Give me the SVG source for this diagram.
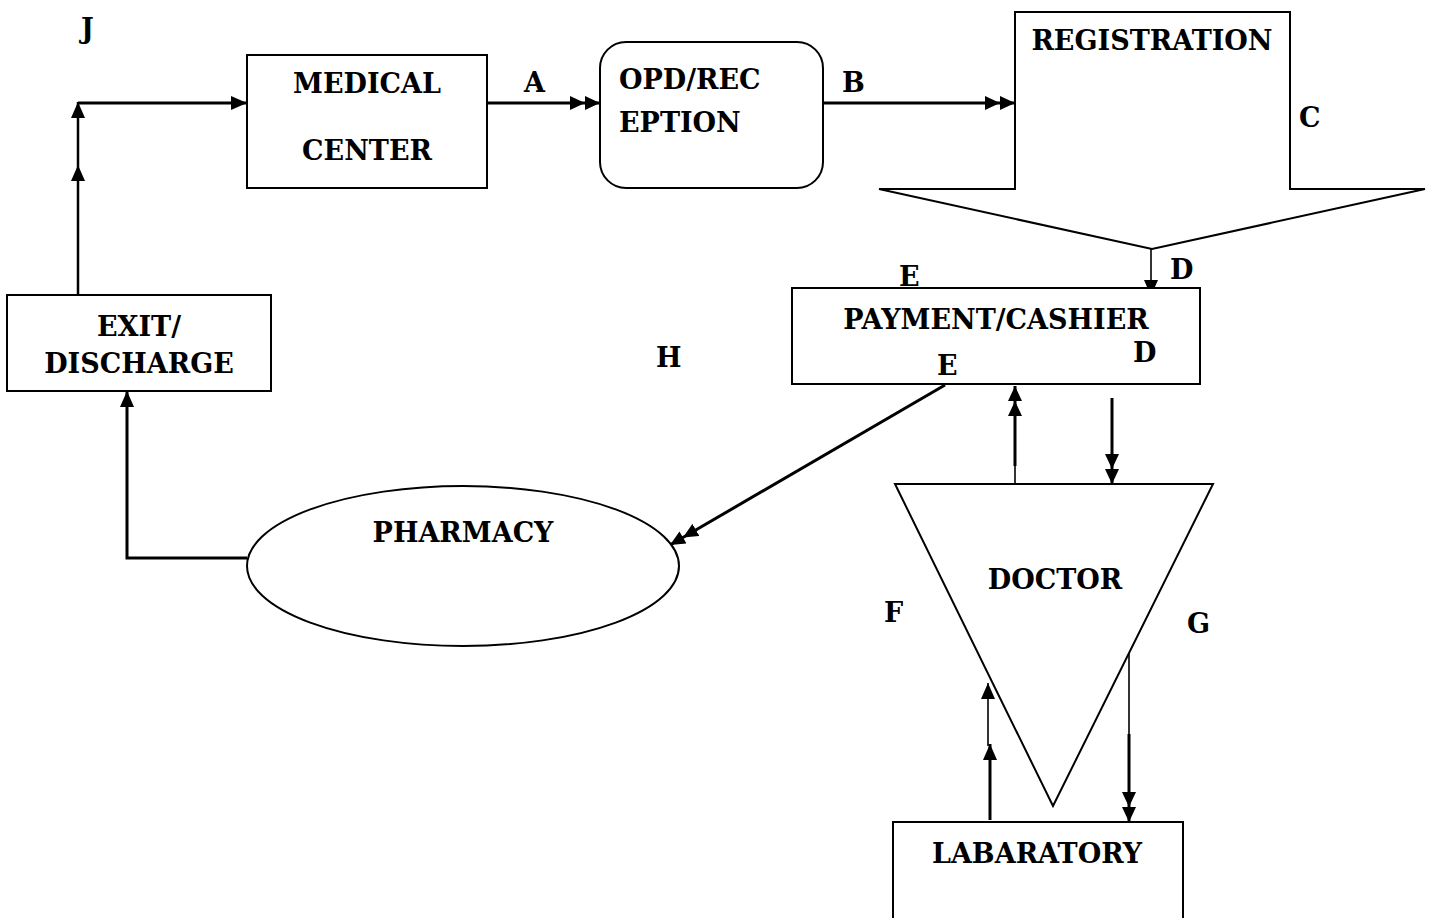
<svg xmlns="http://www.w3.org/2000/svg" width="1430" height="918" viewBox="0 0 1430 918">
<style>
.t{font-family:"DejaVu Serif","Liberation Serif",serif;font-weight:bold;font-size:27px;fill:#000}
.m{text-anchor:middle}
.s{fill:#fff;stroke:#000;stroke-width:2}
.c{fill:none;stroke:#000;stroke-width:3}
.th{fill:none;stroke:#000;stroke-width:1.6}
</style>
<defs>
<marker id="ah" viewBox="0 0 16 14" markerWidth="16" markerHeight="14" refX="16" refY="7" orient="auto" markerUnits="userSpaceOnUse"><path d="M0,0 L16,7 L0,14 z" fill="#000"/></marker>
<marker id="ad" viewBox="0 0 30 14" markerWidth="30" markerHeight="14" refX="30" refY="7" orient="auto" markerUnits="userSpaceOnUse"><path d="M0,0 L15,7 L0,14 z M15,0 L30,7 L15,14 z" fill="#000"/></marker>
</defs>
<rect width="1430" height="918" fill="#fff"/>
<g id="connectors">
<path class="c" d="M78,295 V165" marker-end="url(#ah)" style="stroke-width:2.5"/>
<path class="c" d="M78,165 V102" marker-end="url(#ah)" style="stroke-width:2.5"/>
<path class="c" d="M78,103 H247" marker-end="url(#ah)"/>
<path class="c" d="M487,103 H600" marker-end="url(#ad)"/>
<path class="c" d="M823,103 H1015" marker-end="url(#ad)"/>
<path class="th" d="M1151,249 V296" marker-end="url(#ah)"/>
<path class="c" d="M945,385 L670,545" marker-end="url(#ad)"/>
<path class="th" d="M1015,484 V465"/>
<path class="c" d="M1015,466 V386" marker-end="url(#ad)"/>
<path class="c" d="M1112,398 V484" marker-end="url(#ad)"/>
<path class="c" d="M990,820 V744" marker-end="url(#ah)"/>
<path class="th" d="M988,746 V683" marker-end="url(#ah)"/>
<path class="th" d="M1129,645 V736"/>
<path class="c" d="M1129,734 V822" marker-end="url(#ad)"/>
<path class="c" d="M247,558 H127 V391" marker-end="url(#ah)"/>
</g>
<g id="medical-center">
<rect class="s" x="247" y="55" width="240" height="133"/>
<text class="t m" x="367" y="93">MEDICAL</text>
<text class="t m" x="367" y="160">CENTER</text>
</g>
<g id="opd-reception">
<rect class="s" x="600" y="42" width="223" height="146" rx="26"/>
<text class="t" x="619" y="89">OPD/REC</text>
<text class="t" x="619" y="132">EPTION</text>
</g>
<g id="registration">
<path class="s" d="M1015,12 H1290 V189 H1425 L1152,249 L879,189 H1015 Z"/>
<text class="t m" x="1152" y="50">REGISTRATION</text>
</g>
<g id="payment-cashier">
<rect class="s" x="792" y="288" width="408" height="96"/>
<text class="t m" x="996" y="329">PAYMENT/CASHIER</text>
</g>
<g id="exit-discharge">
<rect class="s" x="7" y="295" width="264" height="96"/>
<text class="t m" x="139" y="336">EXIT/</text>
<text class="t m" x="139" y="373">DISCHARGE</text>
</g>
<g id="pharmacy">
<ellipse class="s" cx="463" cy="566" rx="216" ry="80"/>
<text class="t m" x="463" y="542">PHARMACY</text>
</g>
<g id="doctor">
<path class="s" d="M895,484 H1213 L1053,806 Z"/>
<text class="t m" x="1055" y="589">DOCTOR</text>
</g>
<g id="laboratory">
<rect class="s" x="893" y="822" width="290" height="110"/>
<text class="t m" x="1037" y="863">LABARATORY</text>
</g>
<g id="labels">
<text class="t" x="81" y="38">J</text>
<text class="t" x="524" y="92">A</text>
<text class="t" x="842" y="92">B</text>
<text class="t" x="1299" y="127">C</text>
<text class="t" x="1170" y="279">D</text>
<text class="t" x="899" y="286">E</text>
<text class="t" x="1133" y="362">D</text>
<text class="t" x="937" y="375">E</text>
<text class="t" x="656" y="367">H</text>
<text class="t" x="884" y="622">F</text>
<text class="t" x="1187" y="633">G</text>
</g>
</svg>
